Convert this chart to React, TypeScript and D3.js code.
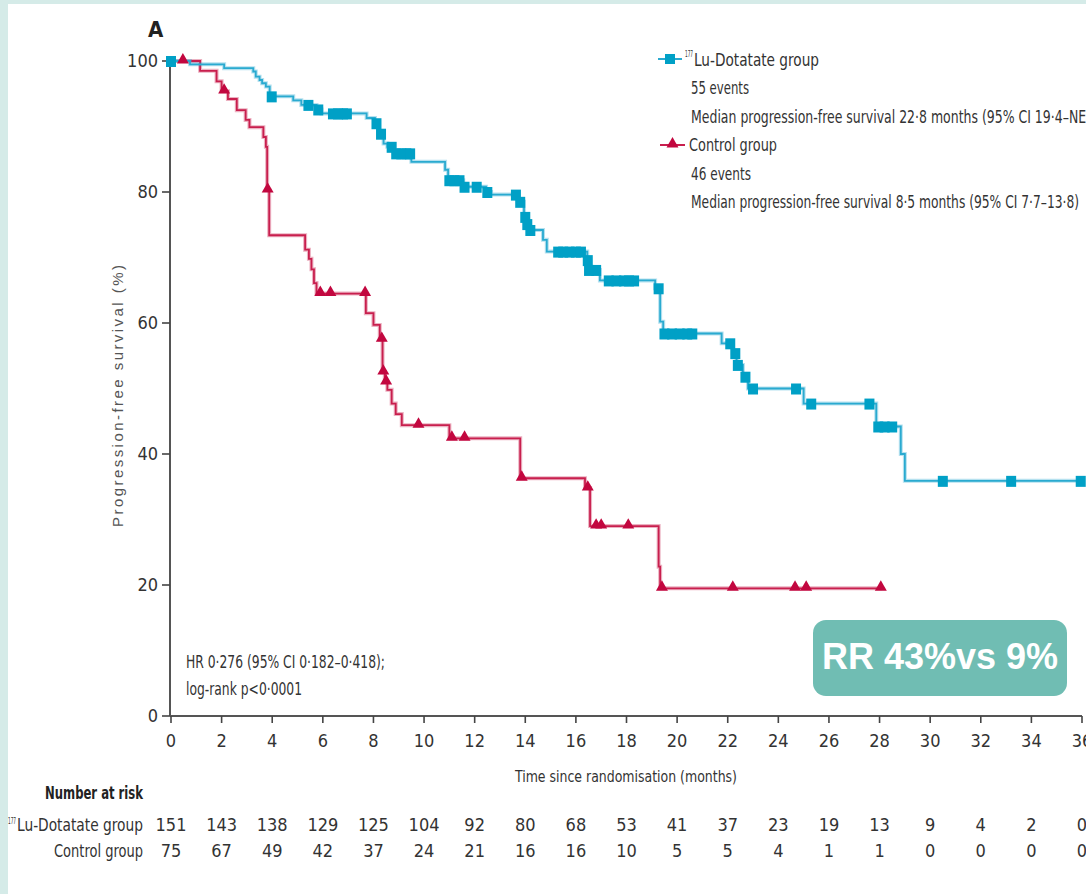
import React from "react";
import * as d3 from "d3";

// axis ticks
const monthTicks = [0, 2, 4, 6, 8, 10, 12, 14, 16, 18, 20, 22, 24, 26, 28, 30, 32, 34, 36];
const pctTicks = [0, 20, 40, 60, 80, 100];

// 177Lu-Dotatate group, Kaplan-Meier steps
const luTimes = [0, 0.75, 2.1, 3.25, 3.35, 3.5, 3.6, 3.75, 3.9, 4.83, 5.15, 5.75, 5.95, 7.73, 8.06, 8.2, 8.4, 8.55, 8.8, 9.5, 10.83, 10.95, 11.55, 12.45, 12.65, 13.7, 13.95, 14.05, 14.15, 14.7, 14.85, 16.45, 16.5, 16.95, 19.13, 19.33, 19.45, 21.76, 22.2, 22.35, 22.6, 22.8, 25.0, 27.87, 28.84, 29.0];
const luSurvival = [100, 99.5, 98.9, 98.4, 97.6, 97.1, 96.6, 96.1, 94.6, 94.0, 93.3, 92.6, 92.0, 91.3, 90.5, 88.9, 87.4, 86.9, 85.9, 84.6, 83.4, 81.8, 80.8, 80.0, 79.6, 78.5, 76.2, 75.1, 74.2, 72.7, 70.9, 69.6, 68.1, 66.5, 65.3, 60.2, 58.4, 56.9, 55.4, 53.6, 51.8, 50.0, 47.7, 44.2, 40.0, 35.9];
const luCensored = [0, 3.98, 5.43, 5.82, 6.4, 6.6, 6.8, 6.95, 8.12, 8.3, 8.72, 8.9, 9.1, 9.3, 9.45, 11.0, 11.2, 11.4, 11.6, 12.08, 12.5, 13.63, 13.8, 14.0, 14.08, 14.2, 15.3, 15.5, 15.75, 16.0, 16.2, 16.47, 16.52, 16.8, 17.3, 17.6, 17.9, 18.1, 18.3, 19.27, 19.5, 19.8, 20.1, 20.4, 20.6, 22.1, 22.3, 22.4, 22.7, 23.0, 24.7, 25.3, 27.6, 27.95, 28.2, 28.5, 30.5, 33.2, 35.95];
const luLastFollowUp = 36;

// control group
const ctrlTimes = [0, 1.15, 1.8, 2.0, 2.25, 2.6, 2.95, 3.1, 3.65, 3.75, 3.8, 3.88, 5.3, 5.45, 5.55, 5.65, 5.75, 7.7, 8.0, 8.25, 8.36, 8.45, 8.55, 8.72, 8.88, 9.12, 11.0, 13.8, 16.36, 16.56, 19.27, 19.33];
const ctrlSurvival = [100, 98.5, 96.9, 95.4, 94.2, 92.5, 91.0, 89.9, 88.4, 86.9, 80.3, 73.4, 71.2, 69.8, 68.2, 66.1, 64.5, 61.5, 59.7, 57.5, 52.5, 51.0, 49.8, 47.7, 46.1, 44.4, 42.4, 36.3, 34.8, 29.0, 22.8, 19.5];
const ctrlCensored = [0.47, 2.1, 3.82, 5.9, 6.3, 7.67, 8.33, 8.39, 8.5, 9.78, 11.1, 11.6, 13.86, 16.47, 16.8, 17.0, 18.07, 19.4, 22.2, 24.66, 25.1, 28.05];
const ctrlLastFollowUp = 28.1;

// number at risk
const luAtRisk = [151, 143, 138, 129, 125, 104, 92, 80, 68, 53, 41, 37, 23, 19, 13, 9, 4, 2, 0];
const ctrlAtRisk = [75, 67, 49, 42, 37, 24, 21, 16, 16, 10, 5, 5, 4, 1, 1, 0, 0, 0, 0];

const BLUE = "#00a0c6";
const BLUE_LINE = "#2aaad0";
const RED = "#c2073f";
const RED_LINE = "#c81f4e";
const INK = "#333";
const NARROW = "'Liberation Sans Narrow', 'DejaVu Sans Condensed', sans-serif";

const W = 1086;
const H = 894;

function survAt(times: number[], surv: number[], t: number) {
  const i = d3.bisectRight(times, t) - 1;
  return surv[Math.max(i, 0)];
}

export default function App() {
  const x = d3.scaleLinear().domain([0, 36]).range([171, 1082]);
  const y = d3.scaleLinear().domain([0, 100]).range([716, 61]);

  const line = d3
    .line<[number, number]>()
    .x((d) => x(d[0]))
    .y((d) => y(d[1]))
    .curve(d3.curveStepAfter);

  const luPts: [number, number][] = luTimes.map((t, i) => [t, luSurvival[i]]);
  luPts.push([luLastFollowUp, luSurvival[luSurvival.length - 1]]);
  const ctrlPts: [number, number][] = ctrlTimes.map((t, i) => [t, ctrlSurvival[i]]);
  ctrlPts.push([ctrlLastFollowUp, ctrlSurvival[ctrlSurvival.length - 1]]);

  const tri = d3.symbol(d3.symbolTriangle, 62)();
  const sq = 10;

  return (
    <div style={{ position: "absolute", left: 0, top: 0 }}>
      <svg width={W} height={H} style={{ display: "block", background: "#fff" }}>
        {/* frame strips */}
        <rect x={0} y={0} width={W} height={4} fill="#d5ebe8" />
        <rect x={0} y={0} width={8} height={H} fill="#d5ebe8" />

        <text x={148} y={37} fontFamily={NARROW} fontWeight="bold" fontSize={22} fill="#222">
          A
        </text>

        {/* y axis */}
        <line x1={170} x2={170} y1={y(100)} y2={y(0)} stroke="#555" strokeWidth={2} />
        {pctTicks.map((v) => (
          <g key={"y" + v}>
            <line x1={162} x2={170} y1={y(v)} y2={y(v)} stroke="#444" strokeWidth={1.6} />
            <text x={158} y={y(v) + 6} textAnchor="end" fontFamily={NARROW} fontSize={18} fill={INK}>
              {v}
            </text>
          </g>
        ))}
        <text
          transform={`translate(123,396) rotate(-90)`}
          textAnchor="middle"
          fontFamily="'Liberation Sans', sans-serif"
          fontSize={15}
          fill="#555"
          textLength={262}
          lengthAdjust="spacing"
        >
          Progression-free survival (%)
        </text>

        {/* x axis */}
        <line x1={170} x2={x(36)} y1={y(0)} y2={y(0)} stroke="#555" strokeWidth={2} />
        {monthTicks.map((m) => (
          <g key={"x" + m}>
            <line x1={x(m)} x2={x(m)} y1={y(0)} y2={y(0) + 7} stroke="#444" strokeWidth={1.6} />
            <text x={x(m)} y={747} textAnchor="middle" fontFamily={NARROW} fontSize={18} fill={INK}>
              {m}
            </text>
          </g>
        ))}
        <text x={626} y={782} textAnchor="middle" fontFamily={NARROW} fontSize={16} fill={INK} textLength={222} lengthAdjust="spacingAndGlyphs">
          Time since randomisation (months)
        </text>

        {/* curves */}
        <path d={line(ctrlPts) || ""} fill="none" stroke={RED_LINE} strokeOpacity={0.35} strokeWidth={4} />
        <path d={line(ctrlPts) || ""} fill="none" stroke={RED_LINE} strokeWidth={1.8} />
        <path d={line(luPts) || ""} fill="none" stroke={BLUE_LINE} strokeOpacity={0.35} strokeWidth={4} />
        <path d={line(luPts) || ""} fill="none" stroke={BLUE_LINE} strokeWidth={1.8} />

        {ctrlCensored.map((t, i) => (
          <path key={"c" + i} d={tri || ""} transform={`translate(${x(t)},${y(survAt(ctrlTimes, ctrlSurvival, t)) - 1})`} fill={RED} />
        ))}
        {luCensored.map((t, i) => (
          <rect
            key={"l" + i}
            x={x(t) - sq / 2}
            y={y(survAt(luTimes, luSurvival, t)) - sq / 2}
            width={sq}
            height={sq + 1}
            fill={BLUE}
          />
        ))}

        {/* legend */}
        <line x1={658} x2={682} y1={59} y2={59} stroke={BLUE_LINE} strokeWidth={2} />
        <rect x={670 - sq / 2} y={59 - sq / 2} width={sq} height={sq} fill={BLUE} />
        <text x={685} y={57} fontFamily={NARROW} fontSize={8} fill={INK} textLength={8} lengthAdjust="spacingAndGlyphs">177</text>
        <text x={694} y={66} fontFamily={NARROW} fontSize={18} fill={INK} textLength={125} lengthAdjust="spacingAndGlyphs">
          Lu-Dotatate group
        </text>
        <text x={691} y={94} fontFamily={NARROW} fontSize={18} fill={INK} textLength={58} lengthAdjust="spacingAndGlyphs">
          55 events
        </text>
        <text x={691} y={123} fontFamily={NARROW} fontSize={18} fill={INK} textLength={400} lengthAdjust="spacingAndGlyphs">
          Median progression-free survival 22·8 months (95% CI 19·4–NE)
        </text>
        <line x1={660} x2={685} y1={145} y2={145} stroke={RED_LINE} strokeWidth={2} />
        <path d={tri || ""} transform="translate(672.5,144)" fill={RED} />
        <text x={689} y={151} fontFamily={NARROW} fontSize={18} fill={INK} textLength={88} lengthAdjust="spacingAndGlyphs">
          Control group
        </text>
        <text x={691} y={180} fontFamily={NARROW} fontSize={18} fill={INK} textLength={60} lengthAdjust="spacingAndGlyphs">
          46 events
        </text>
        <text x={691} y={208} fontFamily={NARROW} fontSize={18} fill={INK} textLength={388} lengthAdjust="spacingAndGlyphs">
          Median progression-free survival 8·5 months (95% CI 7·7–13·8)
        </text>

        {/* hazard ratio */}
        <text x={186} y={668} fontFamily={NARROW} fontSize={18} fill={INK} textLength={199} lengthAdjust="spacingAndGlyphs">
          HR 0·276 (95% CI 0·182–0·418);
        </text>
        <text x={186} y={695} fontFamily={NARROW} fontSize={18} fill={INK} textLength={116} lengthAdjust="spacingAndGlyphs">
          log-rank p&lt;0·0001
        </text>

        {/* response rate badge */}
        <rect x={813} y={620} width={254} height={76} rx={13} fill="#70bdb3" />
        <text x={940} y={669} textAnchor="middle" fontFamily="'Liberation Sans', Arial, sans-serif" fontWeight="bold" fontSize={36} fill="#fff">
          RR 43%vs 9%
        </text>

        {/* number at risk */}
        <text x={143} y={799} textAnchor="end" fontFamily={NARROW} fontWeight="bold" fontSize={18} fill="#222" textLength={98} lengthAdjust="spacingAndGlyphs">
          Number at risk
        </text>
        <text x={8} y={824} fontFamily={NARROW} fontSize={8} fill={INK} textLength={8} lengthAdjust="spacingAndGlyphs">177</text>
        <text x={143} y={831} textAnchor="end" fontFamily={NARROW} fontSize={18} fill={INK} textLength={126} lengthAdjust="spacingAndGlyphs">
          Lu-Dotatate group
        </text>
        <text x={143} y={857} textAnchor="end" fontFamily={NARROW} fontSize={18} fill={INK} textLength={89} lengthAdjust="spacingAndGlyphs">
          Control group
        </text>
        {monthTicks.map((m, i) => (
          <g key={"r" + m}>
            <text x={x(m)} y={831} textAnchor="middle" fontFamily={NARROW} fontSize={18} fill={INK}>
              {luAtRisk[i]}
            </text>
            <text x={x(m)} y={857} textAnchor="middle" fontFamily={NARROW} fontSize={18} fill={INK}>
              {ctrlAtRisk[i]}
            </text>
          </g>
        ))}
      </svg>
    </div>
  );
}
